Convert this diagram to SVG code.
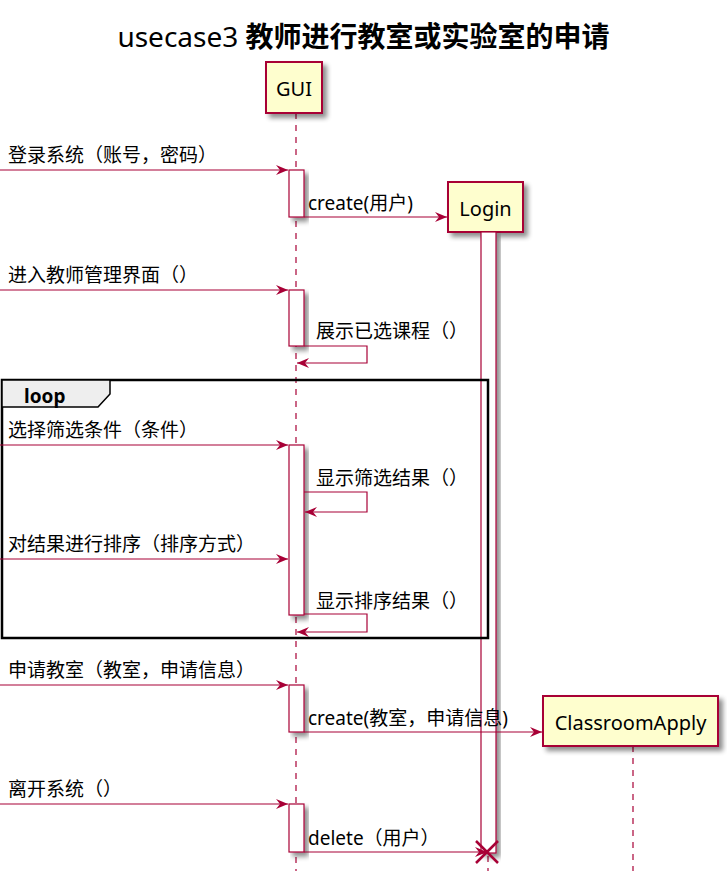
<svg xmlns="http://www.w3.org/2000/svg" width="727" height="871" viewBox="0 0 727 871">
<defs>
<filter id="sh" x="-20%" y="-20%" width="150%" height="150%">
<feGaussianBlur in="SourceAlpha" stdDeviation="2.5"/>
<feOffset dx="4" dy="4" result="b"/>
<feComponentTransfer><feFuncA type="linear" slope="0.45"/></feComponentTransfer>
<feMerge><feMergeNode/><feMergeNode in="SourceGraphic"/></feMerge>
</filter>
<marker id="ah" viewBox="0 0 12 10" refX="12" refY="5" markerWidth="12" markerHeight="10" markerUnits="userSpaceOnUse" orient="auto">
<path d="M0,0 L12,5 L0,10 L4,5 Z" fill="#A80036"/>
</marker>
</defs>
<style>
text{font-family:"Noto Sans","Noto Sans CJK SC",sans-serif;fill:#000}
.m{font-size:19px}
.part{fill:#FEFECE;stroke:#A80036;stroke-width:2}
.bar{fill:#FFFFFF;stroke:#A80036;stroke-width:1.2}
.life{stroke:#A80036;stroke-width:1.2;stroke-dasharray:6,6;fill:none}
.msg{stroke:#A80036;stroke-width:1.2;fill:none}
.pn{font-size:20px}
</style>
<rect width="727" height="871" fill="#FFFFFF"/>
<text x="363.5" y="47" text-anchor="middle" style="font-size:28px"><tspan>usecase3 </tspan><tspan style="font-weight:bold;font-family:'Noto Sans CJK SC',sans-serif">教师进行教室或实验室的申请</tspan></text>

<g id="lifelines">
<line class="life" x1="296" y1="113" x2="296" y2="871"/>
<line class="life" x1="488" y1="232" x2="488" y2="871"/>
<line class="life" x1="633" y1="746" x2="633" y2="871"/>
</g>

<g id="GUI">
<rect class="part" x="266" y="62" width="56" height="51" filter="url(#sh)"/>
<text class="pn" x="294" y="96" text-anchor="middle">GUI</text>
</g>
<g id="Login">
<rect class="part" x="448" y="182" width="75" height="50" filter="url(#sh)"/>
<text class="pn" x="485.5" y="216" text-anchor="middle">Login</text>
</g>
<g id="ClassroomApply">
<rect class="part" x="543" y="696" width="175" height="50" filter="url(#sh)"/>
<text class="pn" x="630.5" y="730" text-anchor="middle">ClassroomApply</text>
</g>

<g id="activations">
<rect class="bar" x="481" y="232" width="15" height="621" filter="url(#sh)"/>
<rect class="bar" x="289" y="170" width="15" height="47" filter="url(#sh)"/>
<rect class="bar" x="289" y="290" width="15" height="56" filter="url(#sh)"/>
<rect class="bar" x="289" y="445" width="15" height="170" filter="url(#sh)"/>
<rect class="bar" x="289" y="685" width="15" height="47" filter="url(#sh)"/>
<rect class="bar" x="289" y="804" width="15" height="48" filter="url(#sh)"/>
</g>

<g id="loop">
<rect x="2" y="380" width="486" height="258" fill="none" stroke="#000" stroke-width="2.5"/>
<path d="M2,380 L110,380 L110,394 L98,407 L2,407 Z" fill="#EEEEEE" stroke="#000" stroke-width="1.5"/>
<text x="24" y="403" style="font-size:19px;font-weight:bold">loop</text>
</g>

<g id="connectors">
<line class="msg" x1="0" y1="170" x2="288" y2="170" marker-end="url(#ah)"/>
<text class="m" x="8" y="162">登录系统（账号，密码）</text>
<line class="msg" x1="304" y1="217" x2="447" y2="217" marker-end="url(#ah)"/>
<text class="m" x="308" y="210">create(用户)</text>
<line class="msg" x1="0" y1="290" x2="288" y2="290" marker-end="url(#ah)"/>
<text class="m" x="8" y="282">进入教师管理界面（）</text>
<polyline class="msg" points="304,346 367,346 367,363 297,363" marker-end="url(#ah)"/>
<text class="m" x="316" y="338">展示已选课程（）</text>
<line class="msg" x1="0" y1="445" x2="288" y2="445" marker-end="url(#ah)"/>
<text class="m" x="8" y="437">选择筛选条件（条件）</text>
<polyline class="msg" points="304,492 367,492 367,512 305,512" marker-end="url(#ah)"/>
<text class="m" x="316" y="485">显示筛选结果（）</text>
<line class="msg" x1="0" y1="559" x2="288" y2="559" marker-end="url(#ah)"/>
<text class="m" x="8" y="551">对结果进行排序（排序方式）</text>
<polyline class="msg" points="304,614 367,614 367,632 297,632" marker-end="url(#ah)"/>
<text class="m" x="316" y="608">显示排序结果（）</text>
<line class="msg" x1="0" y1="685" x2="288" y2="685" marker-end="url(#ah)"/>
<text class="m" x="8" y="677">申请教室（教室，申请信息）</text>
<line class="msg" x1="304" y1="732" x2="542" y2="732" marker-end="url(#ah)"/>
<text class="m" x="308" y="725">create(教室，申请信息)</text>
<line class="msg" x1="0" y1="804" x2="288" y2="804" marker-end="url(#ah)"/>
<text class="m" x="8" y="796">离开系统（）</text>
<line class="msg" x1="304" y1="852" x2="487" y2="852" marker-end="url(#ah)"/>
<text class="m" x="308" y="845">delete（用户）</text>
<path d="M476,841 L498,863 M498,841 L476,863" stroke="#A80036" stroke-width="2.5"/>
</g>
</svg>
